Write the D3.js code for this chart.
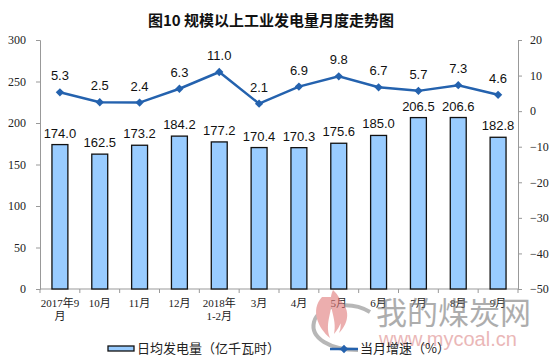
<!DOCTYPE html>
<html><head><meta charset="utf-8">
<script src="https://cdn.jsdelivr.net/npm/d3@7/dist/d3.min.js"></script>
<style>body{margin:0;background:#fff}svg{display:block}</style>
</head><body><div id="chart"></div>
<script>
const categories = ["2017年9月","10月","11月","12月","2018年1-2月","3月","4月","5月","6月","7月","8月","9月"];
const catLines = [["2017年9","月"],["10月"],["11月"],["12月"],["2018年","1-2月"],["3月"],["4月"],["5月"],["6月"],["7月"],["8月"],["9月"]];
const output = [174.0,162.5,173.2,184.2,177.2,170.4,170.3,175.6,185.0,206.5,206.6,182.8];
const growth = [5.3,2.5,2.4,6.3,11.0,2.1,6.9,9.8,6.7,5.7,7.3,4.6];
const leftTicks = [0,50,100,150,200,250,300];
const rightTicks = [-50,-40,-30,-20,-10,0,10,20];

const W=555,H=359, L=40, R=518, T=40, B=289;
const svg=d3.select("#chart").append("svg").attr("width",W).attr("height",H);
const cjk="'Noto Sans CJK SC','Noto Sans',sans-serif";
const serif="'Liberation Serif','DejaVu Serif',serif";
const sans="'Liberation Sans',Arial,sans-serif";

svg.append("text").attr("x",271).attr("y",26).attr("text-anchor","middle")
  .attr("font-family",cjk).attr("font-size",15).attr("font-weight","bold").attr("fill","#111")
  .text("图10 规模以上工业发电量月度走势图");

const x=d3.scaleBand().domain(categories).range([L,R]).paddingInner(0.6).paddingOuter(0.3);
const xs=d3.scaleBand().domain(categories).range([L,R]);
const yL=d3.scaleLinear().domain([0,300]).range([B,T]);
const yR=d3.scaleLinear().domain([-50,20]).range([B,T]);

const axisColor="#999";
const gl=svg.append("g").attr("transform",`translate(${L},0)`).call(d3.axisLeft(yL).tickValues(leftTicks).tickSize(4).tickPadding(10));
const gr=svg.append("g").attr("transform",`translate(${R},0)`).call(d3.axisRight(yR).tickValues(rightTicks).tickSize(4).tickPadding(8));
[gl,gr].forEach(g=>{g.select(".domain").attr("stroke",axisColor);g.selectAll(".tick line").attr("stroke",axisColor);
  g.selectAll(".tick text").attr("font-family",serif).attr("font-size",12).attr("fill","#222");});
const gb=svg.append("g").attr("transform",`translate(0,${B})`);
gb.append("line").attr("x1",L).attr("x2",R).attr("stroke",axisColor);
gb.selectAll("line.t").data(categories.concat(["end"])).join("line").attr("class","t")
  .attr("x1",(d,i)=>i<categories.length?xs(d):R).attr("x2",(d,i)=>i<categories.length?xs(d):R)
  .attr("y1",0).attr("y2",4).attr("stroke",axisColor);
const lab=gb.selectAll("text").data(categories).join("text")
  .attr("text-anchor","middle").attr("font-family",serif+","+cjk).attr("font-size",11).attr("fill","#222");
lab.each(function(d,i){const t=d3.select(this);catLines[i].forEach((s,j)=>{
  t.append("tspan").attr("x",xs(d)+xs.bandwidth()/2).attr("y",18+j*13).text(s);});});

svg.selectAll("rect.bar").data(output).join("rect").attr("class","bar")
  .attr("x",(d,i)=>x(categories[i])).attr("width",x.bandwidth())
  .attr("y",d=>yL(d)).attr("height",d=>B-yL(d))
  .attr("fill","#99CCFF").attr("stroke","#111").attr("stroke-width",1.3);
svg.selectAll("text.bl").data(output).join("text").attr("class","bl")
  .attr("x",(d,i)=>x(categories[i])+x.bandwidth()/2).attr("y",d=>yL(d)-7)
  .attr("text-anchor","middle").attr("font-family",sans).attr("font-size",13).attr("fill","#111")
  .text(d=>d.toFixed(1));

const cx=i=>xs(categories[i])+xs.bandwidth()/2;
const lineColor="#2462AE";
svg.append("path").datum(growth).attr("fill","none").attr("stroke",lineColor).attr("stroke-width",2.5)
  .attr("d",d3.line().x((d,i)=>cx(i)).y(d=>yR(d)));
svg.selectAll("path.m").data(growth).join("path").attr("class","m")
  .attr("d",d3.symbol(d3.symbolDiamond2,44)).attr("fill",lineColor)
  .attr("transform",(d,i)=>`translate(${cx(i)},${yR(d)})`);
svg.selectAll("text.ll").data(growth).join("text").attr("class","ll")
  .attr("x",(d,i)=>cx(i)).attr("y",d=>yR(d)-12)
  .attr("text-anchor","middle").attr("font-family",sans).attr("font-size",13).attr("fill","#111")
  .text(d=>d.toFixed(1));

// watermark (behind legend)
const wm=svg.append("g").attr("opacity",0.6);
wm.append("path").attr("d","M370,312 C350,300 318,305 314,322 C310,338 330,350 358,350").attr("fill","none").attr("stroke","#888").attr("stroke-width",4);
wm.append("path").attr("d","M322,297 C310,310 318,328 330,338 C324,322 334,310 331,297 Z M333,290 C326,305 338,318 334,334 C348,318 344,300 333,290 Z M339,299 C336,312 344,322 339,333 C350,322 350,308 339,299 Z").attr("fill","#e07a7a");
wm.append("text").attr("x",376).attr("y",324).attr("font-family",cjk).attr("font-size",31).attr("fill","#777").text("我的煤炭网");
wm.append("text").attr("x",379).attr("y",346).attr("font-family",sans).attr("font-size",20).attr("fill","#d88").text("www.mycoal.cn");

// legend
svg.append("rect").attr("x",108).attr("y",346).attr("width",26).attr("height",5)
  .attr("fill","#99CCFF").attr("stroke","#111").attr("stroke-width",1.3);
svg.append("text").attr("x",137).attr("y",353).attr("font-family",cjk).attr("font-size",13).attr("fill","#222").text("日均发电量（亿千瓦时）");
svg.append("line").attr("x1",330).attr("x2",358).attr("y1",349).attr("y2",349).attr("stroke",lineColor).attr("stroke-width",2.5);
svg.append("path").attr("d",d3.symbol(d3.symbolDiamond2,44)).attr("fill",lineColor).attr("transform","translate(344,349)");
svg.append("text").attr("x",360).attr("y",353).attr("font-family",cjk).attr("font-size",13).attr("fill","#222").text("当月增速（%）");
</script></body></html>
